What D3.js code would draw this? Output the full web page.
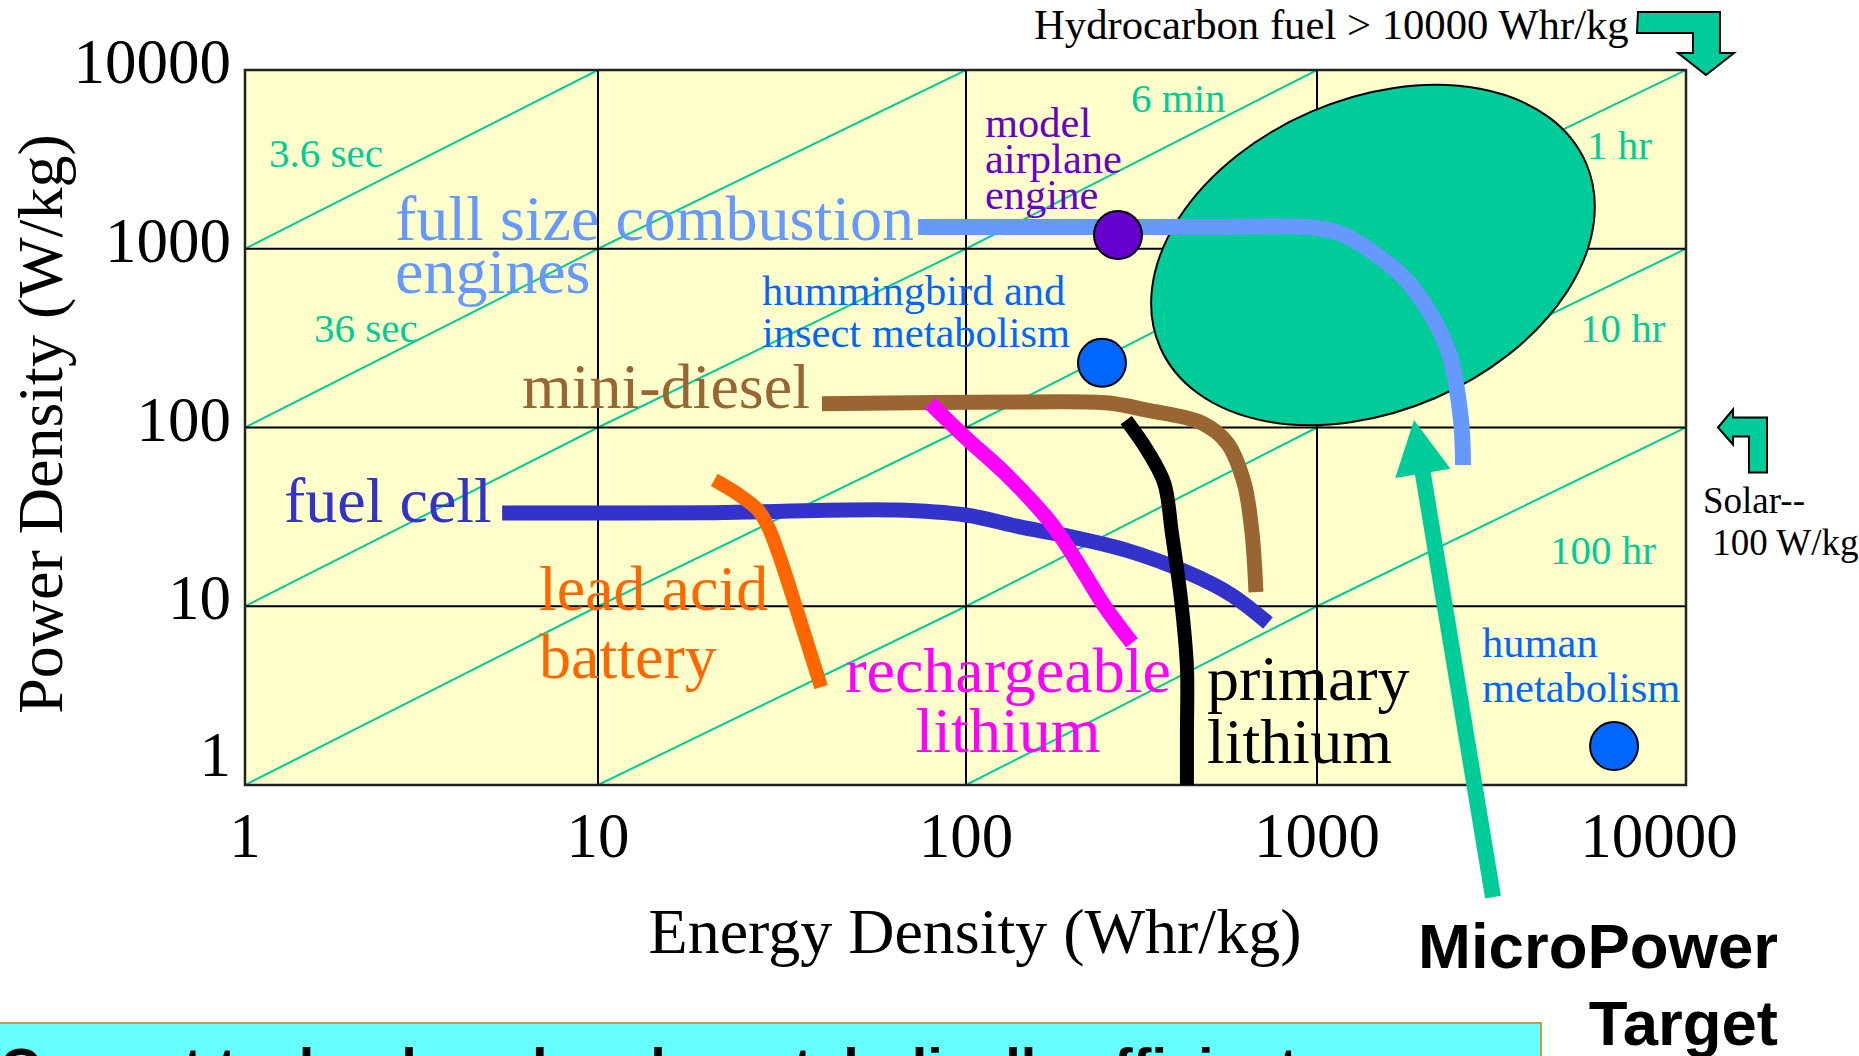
<!DOCTYPE html>
<html>
<head>
<meta charset="utf-8">
<script src="https://cdn.jsdelivr.net/npm/d3@7"></script>
<style>
  html, body { margin: 0; padding: 0; background: #fff; overflow: hidden; }
  svg { display: block; }
  text { font-family: "Liberation Serif", "Times New Roman", serif; }
</style>
</head>
<body>
<svg id="chart"></svg>
<script>
// log-log axes
var energyTicks = [1, 10, 100, 1000, 10000];
var powerTicks = [1, 10, 100, 1000, 10000];
var tickLabels = ["1", "10", "100", "1000", "10000"];

// constant run-time lines, in hours (power = energy / time)
var runHours = [0.001, 0.01, 0.1, 1, 10, 100];
var runLabels = ["3.6 sec", "36 sec", "6 min", "1 hr", "10 hr", "100 hr"];

// technology curves, [energy Whr/kg, power W/kg]
var combustion = [[74.1, 1324], [519, 1324], [912, 1324], [1147, 1225], [1427, 947], [1743, 669], [2024, 437], [2279, 261], [2456, 110], [2487, 61.7]];
var fuelCell = [[5.35, 33.2], [20.7, 33.4], [64.1, 34.6], [100, 32.4], [143.5, 27.7], [189, 25.0], [286, 20.6], [432, 15.3], [569, 11.6], [725, 8.06]];
var miniDiesel = [[40.6, 136], [151, 139], [255, 137], [328, 125], [470, 106], [555, 81.8], [620, 48.9], [653, 25.7], [670, 12.0]];
var leadAcid = [[20.7, 50.9], [24.2, 41.9], [27.2, 34.6], [29.0, 27.8], [31.4, 18.1], [34.9, 9.17], [40.4, 3.53]];
var rechargeable = [[79.8, 137], [100, 87.4], [128, 56.4], [169, 31.6], [189, 23.5], [217, 15.3], [249, 9.9], [297, 6.23]];
var primaryLithium = [[286, 110], [328, 74.8], [367, 48.9], [386, 25.7], [410, 10.8], [426, 4.57], [426, 1.95], [426, 1.0]];

// single points
var pointNames = ["model airplane engine", "hummingbird and insect metabolism", "human metabolism"];
var pointValues = [[271, 1194], [244, 230], [6383, 1.65]];

// micropower target region centre and the arrow pointing at it
var targetCentre = [1418, 923];
var arrowTip = [1832, 110];
var arrowTail = [2999, 0.236];

var width = 1859,
    height = 1056;

var svg = d3.select("#chart")
    .attr("width", width)
    .attr("height", height);

// the original grid is hand drawn, so the decades are not quite even
var x = d3.scaleLog().domain(energyTicks).range([245, 598, 966, 1317, 1686]);
var y = d3.scaleLog().domain([1, 10000]).range([785, 70]);

var green = "#00CC99";

svg.append("clipPath").attr("id", "plotClip")
  .append("rect")
    .attr("x", x(1)).attr("y", y(10000))
    .attr("width", x(10000) - x(1)).attr("height", y(1) - y(10000));

// plot background
svg.append("rect")
    .attr("x", x(1)).attr("y", y(10000))
    .attr("width", x(10000) - x(1)).attr("height", y(1) - y(10000))
    .attr("fill", "#FFFFCC");

var plot = svg.append("g").attr("clip-path", "url(#plotClip)");

var line = d3.line()
    .x(function(d) { return x(d[0]); })
    .y(function(d) { return y(d[1]); });

// run-time diagonals, through every decade so they meet the grid corners
plot.selectAll("path.run")
    .data(runHours)
  .enter().append("path")
    .attr("class", "run")
    .attr("d", function(t) {
      return line(energyTicks.map(function(e) { return [e, e / t]; }));
    })
    .attr("fill", "none")
    .attr("stroke", green)
    .attr("stroke-width", 2);

// grid
svg.selectAll("line.vgrid")
    .data(energyTicks.slice(1, -1))
  .enter().append("line")
    .attr("x1", function(d) { return x(d); }).attr("x2", function(d) { return x(d); })
    .attr("y1", y(10000)).attr("y2", y(1))
    .attr("stroke", "#000").attr("stroke-width", 2);

svg.selectAll("line.hgrid")
    .data(powerTicks.slice(1, -1))
  .enter().append("line")
    .attr("y1", function(d) { return y(d); }).attr("y2", function(d) { return y(d); })
    .attr("x1", x(1)).attr("x2", x(10000))
    .attr("stroke", "#000").attr("stroke-width", 2);

svg.append("rect")
    .attr("x", x(1)).attr("y", y(10000))
    .attr("width", x(10000) - x(1)).attr("height", y(1) - y(10000))
    .attr("fill", "none")
    .attr("stroke", "#222").attr("stroke-width", 2.5);

// target ellipse
var tc = [x(targetCentre[0]), y(targetCentre[1])];
svg.append("ellipse")
    .attr("transform", "translate(" + tc[0] + "," + tc[1] + ") rotate(-23.3)")
    .attr("rx", 232).attr("ry", 156)
    .attr("fill", green)
    .attr("stroke", "#000").attr("stroke-width", 2);

var smooth = d3.line()
    .x(function(d) { return x(d[0]); })
    .y(function(d) { return y(d[1]); })
    .curve(d3.curveCatmullRom.alpha(0.5));

var curves = [
  { values: fuelCell, color: "#3333CC", w: 15 },
  { values: miniDiesel, color: "#996633", w: 15 },
  { values: leadAcid, color: "#FF6600", w: 14 },
  { values: rechargeable, color: "#FF00FF", w: 15 },
  { values: primaryLithium, color: "#000000", w: 14 },
  { values: combustion, color: "#6699FF", w: 16 }
];

svg.selectAll("path.curve")
    .data(curves)
  .enter().append("path")
    .attr("class", "curve")
    .attr("d", function(d) { return smooth(d.values); })
    .attr("fill", "none")
    .attr("stroke", function(d) { return d.color; })
    .attr("stroke-width", function(d) { return d.w; })
    .attr("stroke-linecap", "butt")
    .attr("stroke-linejoin", "round");

// points
var pointColors = ["#6600CC", "#0066FF", "#0066FF"];
svg.selectAll("circle.pt")
    .data(pointValues)
  .enter().append("circle")
    .attr("cx", function(d) { return x(d[0]); })
    .attr("cy", function(d) { return y(d[1]); })
    .attr("r", 24)
    .attr("fill", function(d, i) { return pointColors[i]; })
    .attr("stroke", "#000").attr("stroke-width", 2);

// micropower arrow
var p0 = [x(arrowTail[0]), y(arrowTail[1])],
    p1 = [x(arrowTip[0]), y(arrowTip[1])];
var dx = p1[0] - p0[0], dy = p1[1] - p0[1], len = Math.sqrt(dx * dx + dy * dy);
var ux = dx / len, uy = dy / len, nx = -uy, ny = ux;
var headLen = 54, headHalf = 28;
var base = [p1[0] - ux * headLen, p1[1] - uy * headLen];
svg.append("line")
    .attr("x1", p0[0]).attr("y1", p0[1])
    .attr("x2", base[0] + ux * 2).attr("y2", base[1] + uy * 2)
    .attr("stroke", green).attr("stroke-width", 16);
svg.append("path")
    .attr("d", "M" + p1[0] + "," + p1[1] +
      "L" + (base[0] + nx * headHalf) + "," + (base[1] + ny * headHalf) +
      "L" + (base[0] - nx * headHalf) + "," + (base[1] - ny * headHalf) + "Z")
    .attr("fill", green);

// run-time labels
var runPos = [[269, 167], [314, 342], [1131, 112], [1587, 159], [1580, 342], [1550, 564]];
svg.selectAll("text.run")
    .data(runLabels)
  .enter().append("text")
    .attr("x", function(d, i) { return runPos[i][0]; })
    .attr("y", function(d, i) { return runPos[i][1]; })
    .attr("font-size", 41)
    .attr("fill", green)
    .text(function(d) { return d; });

// curve and point labels
var labels = [
  { lines: ["full size combustion", "engines"], x: 395, y: 240, dy: 53, size: 64, color: "#6699FF" },
  { lines: ["model", "airplane", "engine"], x: 985, y: 137, dy: 36, size: 42.5, color: "#6600CC" },
  { lines: ["hummingbird and", "insect metabolism"], x: 762, y: 305, dy: 42, size: 42.5, color: "#0066FF" },
  { lines: ["mini-diesel"], x: 522, y: 408, dy: 0, size: 64, color: "#996633" },
  { lines: ["fuel cell"], x: 284, y: 522, dy: 0, size: 64, color: "#3333CC" },
  { lines: ["lead acid", "battery"], x: 539, y: 610, dy: 68, size: 64, color: "#FF6600" },
  { lines: ["rechargeable", "lithium"], x: 1008, y: 692, dy: 60, size: 64, color: "#FF00FF", anchor: "middle" },
  { lines: ["primary", "lithium"], x: 1207, y: 700, dy: 63, size: 64, color: "#000000" },
  { lines: ["human", "metabolism"], x: 1482, y: 657, dy: 45, size: 42.5, color: "#0066FF" }
];

labels.forEach(function(l) {
  var t = svg.append("text")
      .attr("font-size", l.size)
      .attr("fill", l.color)
      .attr("text-anchor", l.anchor || "start");
  l.lines.forEach(function(s, i) {
    t.append("tspan").attr("x", l.x).attr("y", l.y + i * l.dy).text(s);
  });
});

// tick labels
svg.selectAll("text.ytick")
    .data(powerTicks)
  .enter().append("text")
    .attr("x", 231)
    .attr("y", function(d) { return Math.min(y(d) + 13, y(1) - 9); })
    .attr("text-anchor", "end")
    .attr("font-size", 63)
    .text(function(d, i) { return tickLabels[i]; });

svg.selectAll("text.xtick")
    .data(energyTicks)
  .enter().append("text")
    .attr("x", function(d) { return Math.min(x(d), 1659); })
    .attr("y", 857)
    .attr("text-anchor", "middle")
    .attr("font-size", 63)
    .text(function(d, i) { return tickLabels[i]; });

// axis titles
svg.append("text")
    .attr("x", 975).attr("y", 953)
    .attr("text-anchor", "middle")
    .attr("font-size", 64)
    .text("Energy Density (Whr/kg)");

svg.append("text")
    .attr("transform", "translate(62,424) rotate(-90)")
    .attr("text-anchor", "middle")
    .attr("font-size", 64)
    .text("Power Density (W/kg)");

// hydrocarbon fuel note with bent arrow
svg.append("text")
    .attr("x", 1034).attr("y", 39)
    .attr("font-size", 42.7)
    .text("Hydrocarbon fuel > 10000 Whr/kg");

var hx = x(10000) + 21, hy = y(10000) + 5; // arrow tip
svg.append("path")
    .attr("d", "M" + (hx - 69) + "," + (hy - 63) +
      "h82v41h14l-28,22l-28,-22h15v-20h-56z")
    .attr("fill", green).attr("stroke", "#000").attr("stroke-width", 2)
    .attr("stroke-linejoin", "miter");

// solar note with bent arrow
var sx = x(10000) + 32, sy = y(100); // arrow tip
svg.append("path")
    .attr("d", "M" + sx + "," + sy +
      "l15,-18v8h34v55h-18v-36h-16v8z")
    .attr("fill", green).attr("stroke", "#000").attr("stroke-width", 2);

svg.append("text")
    .attr("font-size", 37)
    .selectAll("tspan")
    .data(["Solar--", " 100 W/kg"])
  .enter().append("tspan")
    .attr("x", 1703)
    .attr("y", function(d, i) { return 513 + i * 42; })
    .style("white-space", "pre")
    .text(function(d) { return d; });

// MicroPower Target caption
svg.append("text")
    .attr("text-anchor", "end")
    .attr("font-size", 63.5)
    .attr("font-weight", "bold")
    .style("font-family", "'Liberation Sans', Arial, sans-serif")
    .selectAll("tspan")
    .data(["MicroPower", "Target"])
  .enter().append("tspan")
    .attr("x", 1778)
    .attr("y", function(d, i) { return 968 + i * 77; })
    .text(function(d) { return d; });

// bottom banner (cut off by the frame)
svg.append("rect")
    .attr("x", -3).attr("y", 1023)
    .attr("width", 1544).attr("height", 60)
    .attr("fill", "#66FFFF")
    .attr("stroke", "#CC9933").attr("stroke-width", 2);

svg.append("text")
    .attr("x", 0).attr("y", 1087)
    .attr("font-size", 56)
    .attr("font-weight", "bold")
    .style("font-family", "'Liberation Sans', Arial, sans-serif")
    .text("Current technology barely metabolically efficient");
</script>
</body>
</html>
